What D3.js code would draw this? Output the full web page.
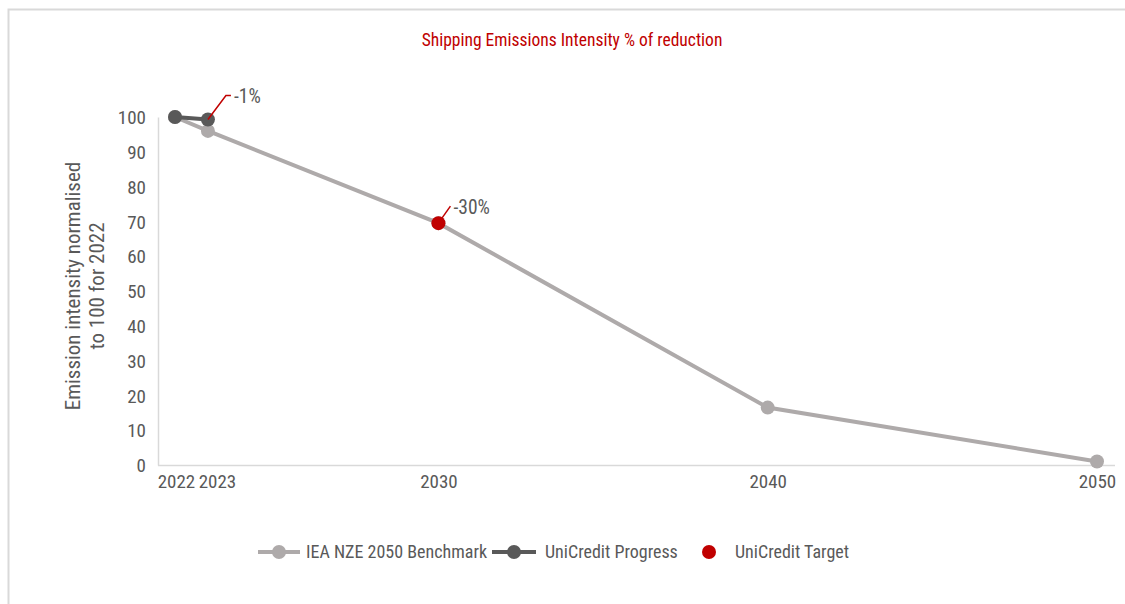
<!DOCTYPE html>
<html><head><meta charset="utf-8">
<script src="https://cdn.jsdelivr.net/npm/d3@7"></script>
<style>
body{margin:0;background:#fff;}
text{font-family:"Liberation Sans Narrow","Roboto Condensed","Arial Narrow",Arial,sans-serif;}
</style></head>
<body>
<svg id="c" width="1125" height="604"></svg>
<script>
const years = [2022, 2023, 2030, 2040, 2050];
const benchmark = [100, 96, 69.5, 16.5, 1];
const progressYears = [2022, 2023];
const progress = [100, 99.3];
const targetYears = [2030];
const target = [69.5];
const yTicks = [0,10,20,30,40,50,60,70,80,90,100];
const labelYears = [2023, 2030];
const labelValues = [99.3, 69.5];
const labelTexts = ["-1%", "-30%"];
const seriesNames = ["IEA NZE 2050 Benchmark", "UniCredit Progress", "UniCredit Target"];

const svg = d3.select("#c");
const grey = "#AEAAAA", dark = "#595959", red = "#C00000", txt = "#595959";

// border
svg.append("path").attr("d","M8.5,604 V9.5 H1125").attr("fill","none").attr("stroke","#D9D9D9").attr("stroke-width",2);

const x = d3.scaleLinear().domain([2022,2050]).range([175,1097]);
const y = d3.scaleLinear().domain([0,100]).range([465,117]);

// title
svg.append("text").attr("x",572).attr("y",46).attr("text-anchor","middle")
  .attr("fill",red).style("font-size","17.5px").text("Shipping Emissions Intensity % of reduction");

// y axis
const ya = svg.append("g").attr("transform","translate(158,0)")
  .call(d3.axisLeft(y).tickValues(yTicks).tickSize(0).tickPadding(12));
ya.select(".domain").attr("stroke","#D9D9D9").attr("stroke-width",1.5);
ya.selectAll("text").attr("fill",txt).style("font-size","19px").attr("dy","0.35em");

// x axis
const xa = svg.append("g").attr("transform","translate(0,465)")
  .call(d3.axisBottom(x).tickValues(years).tickFormat(d3.format("d")).tickSize(0).tickPadding(8));
xa.select(".domain").attr("d","M158,0.5H1115").attr("stroke","#D9D9D9").attr("stroke-width",1.5);
xa.selectAll("text").attr("fill",txt).style("font-size","19px").attr("dy","0.8em");
// nudge crowded labels apart like the original
xa.selectAll(".tick").filter(d=>d===2023).select("text").attr("dx",9);
xa.selectAll(".tick").filter(d=>d===2022).select("text").attr("dx",1);

// y axis title
const yt = svg.append("text").attr("transform","translate(80,286) rotate(-90)")
  .attr("text-anchor","middle").attr("fill",txt).style("font-size","21px");
yt.append("tspan").attr("x",0).attr("dy",0).text("Emission intensity normalised");
yt.append("tspan").attr("x",0).attr("dy",24).text("to 100 for 2022");

const line = d3.line().x(d=>x(d[0])).y(d=>y(d[1]));

// benchmark
const bData = years.map((d,i)=>[d,benchmark[i]]);
svg.append("path").datum(bData).attr("d",line).attr("fill","none").attr("stroke",grey).attr("stroke-width",4);
svg.selectAll(".bm").data(bData).enter().append("circle").attr("cx",d=>x(d[0])).attr("cy",d=>y(d[1])).attr("r",7).attr("fill",grey);

// progress
const pData = progressYears.map((d,i)=>[d,progress[i]]);
svg.append("path").datum(pData).attr("d",line).attr("fill","none").attr("stroke",dark).attr("stroke-width",4);
svg.selectAll(".pm").data(pData).enter().append("circle").attr("cx",d=>x(d[0])).attr("cy",d=>y(d[1])).attr("r",7).attr("fill",dark);

// target
const tData = targetYears.map((d,i)=>[d,target[i]]);
svg.selectAll(".tm").data(tData).enter().append("circle").attr("cx",d=>x(d[0])).attr("cy",d=>y(d[1])).attr("r",7).attr("fill",red);

// data labels with leader lines
const leaderStyle = [{dx:18, dy:-24, h:5}, {dx:12, dy:-17, h:0}];
labelYears.forEach((yr,i)=>{
  const px = x(yr), py = y(labelValues[i]);
  const s = leaderStyle[i];
  const lx = px + s.dx, ly = py + s.dy;
  svg.append("path").attr("d",`M${px},${py} L${lx},${ly} H${lx+s.h}`).attr("fill","none").attr("stroke",red).attr("stroke-width",1.5);
  svg.append("text").attr("x",lx+s.h+3).attr("y",ly+1).attr("dy","0.35em").attr("fill",txt).style("font-size","19.5px").text(labelTexts[i]);
});

// legend
const lg = svg.append("g").attr("transform","translate(0,552)");
const leg = [
  {x0:258, x1:300, c:grey, line:true, tx:306},
  {x0:492, x1:536, c:dark, line:true, tx:545},
  {x0:709, x1:709, c:red, line:false, tx:735}
];
leg.forEach((l,i)=>{
  if(l.line) lg.append("line").attr("x1",l.x0).attr("x2",l.x1).attr("stroke",l.c).attr("stroke-width",4);
  lg.append("circle").attr("cx",(l.x0+l.x1)/2).attr("r",7).attr("fill",l.c);
  lg.append("text").attr("x",l.tx).attr("dy","0.35em").attr("fill",txt).style("font-size","18px").text(seriesNames[i]);
});
</script>
</body></html>
